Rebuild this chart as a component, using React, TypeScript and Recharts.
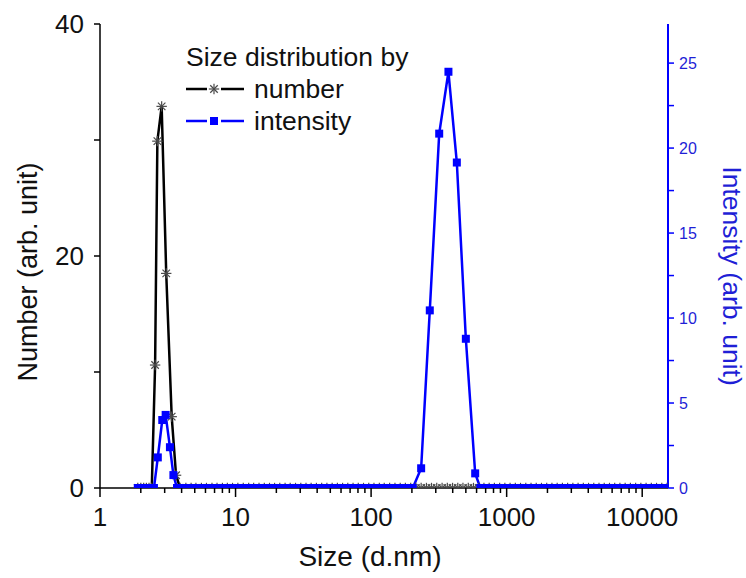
import { LineChart, Line, XAxis, YAxis } from "recharts";

const FONT = "'Liberation Sans', Arial, sans-serif";
const BLUE = "#0000ff";
const BLUE_TEXT = "#1f1fd6";

// size bins (d.nm) and values
const numberSize = [
  1.9, 2.0, 2.1, 2.2, 2.3, 2.41, 2.55, 2.65, 2.85, 3.08,
  3.38, 3.64, 3.9, 4.3, 4.7, 5.1, 5.6, 6.1, 6.7, 7.3,
  8.0, 8.7, 9.5, 10.4, 11.4, 12.5, 13.6, 14.9, 16.3, 17.8,
  19.4, 21.2, 23.2, 25.3, 27.7, 30.3, 33.1, 36.1, 39.5, 43.2,
  47.2, 51.6, 56.4, 61.6, 67.3, 73.6, 80.4, 87.9, 96.1, 105,
  115, 125, 137, 150, 164, 179, 196, 214, 234, 256,
  279, 305, 334, 365, 399, 436, 476, 521, 569, 622,
  680, 743, 812, 888, 970, 1060, 1159, 1266, 1384, 1513,
  1653, 1807, 1975, 2158, 2359, 2578, 2817, 3079, 3365, 3678,
  4020, 4393, 4801, 5247, 5735, 6268, 6850, 7487, 8183, 8943,
  9774, 10682, 11675, 12760, 13946, 15242,
];
const numberValue = [
  0, 0, 0, 0, 0, 0, 10.6, 29.9, 32.9, 18.5,
  6.15, 1.1, 0, 0, 0, 0, 0, 0, 0, 0,
  0, 0, 0, 0, 0, 0, 0, 0, 0, 0,
  0, 0, 0, 0, 0, 0, 0, 0, 0, 0,
  0, 0, 0, 0, 0, 0, 0, 0, 0, 0,
  0, 0, 0, 0, 0, 0, 0, 0, 0, 0,
  0, 0, 0, 0, 0, 0, 0, 0, 0, 0,
  0, 0, 0, 0, 0, 0, 0, 0, 0, 0,
  0, 0, 0, 0, 0, 0, 0, 0, 0, 0,
  0, 0, 0, 0, 0, 0, 0, 0, 0, 0,
  0, 0, 0, 0, 0, 0,
];

const intensitySize = [
  1.9, 2.0, 2.1, 2.2, 2.3, 2.4, 2.5, 2.67, 2.88, 3.05,
  3.28, 3.48, 3.7, 4.0, 4.4, 4.8, 5.2, 5.7, 6.2, 6.8,
  7.4, 8.1, 8.8, 9.6, 10.5, 11.5, 12.5, 13.7, 15, 16.4,
  17.9, 19.6, 21.4, 23.4, 25.6, 28, 30.6, 33.4, 36.5, 39.9,
  43.6, 47.7, 52.1, 57, 62.3, 68.1, 74.4, 81.3, 88.9, 97.2,
  106, 116, 127, 139, 152, 166, 182, 203, 234, 271,
  318, 372, 429, 500, 586, 640, 700, 765, 836, 914,
  1000, 1093, 1195, 1306, 1428, 1561, 1706, 1865, 2039, 2228,
  2436, 2662, 2910, 3181, 3477, 3801, 4154, 4541, 4963, 5425,
  5930, 6482, 7085, 7744, 8465, 9253, 10114, 11055, 12083, 13208,
  14437, 15400,
];
const intensityValue = [
  0, 0, 0, 0, 0, 0, 0, 1.8, 4.0, 4.3,
  2.4, 0.76, 0, 0, 0, 0, 0, 0, 0, 0,
  0, 0, 0, 0, 0, 0, 0, 0, 0, 0,
  0, 0, 0, 0, 0, 0, 0, 0, 0, 0,
  0, 0, 0, 0, 0, 0, 0, 0, 0, 0,
  0, 0, 0, 0, 0, 0, 0, 0, 1.16, 10.45,
  20.85, 24.49, 19.15, 8.78, 0.86, 0, 0, 0, 0, 0,
  0, 0, 0, 0, 0, 0, 0, 0, 0, 0,
  0, 0, 0, 0, 0, 0, 0, 0, 0, 0,
  0, 0, 0, 0, 0, 0, 0, 0, 0, 0,
  0, 0,
];

const xTicks = [
  1, 2, 3, 4, 5, 6, 7, 8, 9,
  10, 20, 30, 40, 50, 60, 70, 80, 90,
  100, 200, 300, 400, 500, 600, 700, 800, 900,
  1000, 2000, 3000, 4000, 5000, 6000, 7000, 8000, 9000,
  10000,
];
const xLabels = [1, 10, 100, 1000, 10000];
const leftTicks = [0, 10, 20, 30, 40];
const leftLabels = [0, 20, 40];
const rightTicks = [0, 2.5, 5, 7.5, 10, 12.5, 15, 17.5, 20, 22.5, 25];
const rightLabels = [0, 5, 10, 15, 20, 25];

const numberData = numberSize.map((s, i) => ({ size: s, v: numberValue[i] }));
const intensityData = intensitySize.map((s, i) => ({ size: s, v: intensityValue[i] }));

function Asterisk({ cx, cy, r = 5.2 }: any) {
  if (cx == null || cy == null) return null;
  const d = r * 0.72;
  return (
    <g stroke="#4a4a4a" strokeWidth={1.2}>
      <line x1={cx - r} y1={cy} x2={cx + r} y2={cy} />
      <line x1={cx} y1={cy - r} x2={cx} y2={cy + r} />
      <line x1={cx - d} y1={cy - d} x2={cx + d} y2={cy + d} />
      <line x1={cx - d} y1={cy + d} x2={cx + d} y2={cy - d} />
    </g>
  );
}

function Square({ cx, cy, s = 8 }: any) {
  if (cx == null || cy == null) return null;
  return <rect x={cx - s / 2} y={cy - s / 2} width={s} height={s} fill={BLUE} />;
}

function BottomTick({ x, y, payload }: any) {
  const major = xLabels.includes(payload.value);
  return (
    <g>
      <line x1={x} x2={x} y1={y} y2={y + (major ? 9 : 5)} stroke="#000" strokeWidth={1.5} />
      {major && (
        <text x={x} y={y + 38} textAnchor="middle" fontSize={26} fontFamily={FONT} fill="#111">
          {payload.value}
        </text>
      )}
    </g>
  );
}

function TopTick({ x, y, payload }: any) {
  const major = xLabels.includes(payload.value);
  return <line x1={x} x2={x} y1={y} y2={y + (major ? 9 : 5)} stroke="#000" strokeWidth={1.5} />;
}

export default function App() {
  return (
    <div style={{ position: "absolute", left: 0, top: 0, width: 746, height: 578, background: "#fff" }}>
      <LineChart width={746} height={578} margin={{ top: 24, right: 0, bottom: 0, left: 0 }}>
        <Line
          data={numberData}
          dataKey="v"
          yAxisId="left"
          xAxisId="bottom"
          type="linear"
          stroke="#000"
          strokeWidth={2.5}
          dot={(p: any) => <Asterisk key={"n" + p.index} cx={p.cx} cy={p.cy} />}
          activeDot={false}
          isAnimationActive={false}
        />
        <Line
          data={intensityData}
          dataKey="v"
          yAxisId="right"
          xAxisId="bottom"
          type="linear"
          stroke={BLUE}
          strokeWidth={2.5}
          dot={(p: any) => <Square key={"i" + p.index} cx={p.cx} cy={p.cy} />}
          activeDot={false}
          isAnimationActive={false}
        />
        <XAxis
          xAxisId="bottom"
          dataKey="size"
          type="number"
          scale="log"
          domain={[1, 15500]}
          allowDataOverflow
          ticks={xTicks}
          interval={0}
          height={90}
          tickSize={0}
          tickMargin={0}
          tickLine={false}
          tick={<BottomTick />}
          axisLine={{ stroke: "#000", strokeWidth: 1.5 }}
        />
        <XAxis
          xAxisId="top"
          orientation="top"
          dataKey="size"
          type="number"
          scale="log"
          domain={[1, 15500]}
          allowDataOverflow
          ticks={xTicks}
          interval={0}
          height={0}
          tickSize={0}
          tickMargin={0}
          tickLine={false}
          tick={<TopTick />}
          axisLine={{ stroke: "#000", strokeWidth: 1.5 }}
        />
        <YAxis
          yAxisId="left"
          width={100}
          domain={[0, 40]}
          allowDataOverflow
          ticks={leftTicks}
          interval={0}
          tickSize={6}
          tickMargin={10}
          tickFormatter={(v: number) => (leftLabels.includes(v) ? String(v) : "")}
          tick={{ fontSize: 26, fontFamily: FONT, fill: "#111" }}
          tickLine={{ stroke: "#000", strokeWidth: 1.5 }}
          axisLine={{ stroke: "#000", strokeWidth: 1.5 }}
        />
        <YAxis
          yAxisId="right"
          orientation="right"
          width={78}
          domain={[0, 27.3]}
          allowDataOverflow
          ticks={rightTicks}
          interval={0}
          tickSize={6}
          tickMargin={5}
          tickFormatter={(v: number) => (rightLabels.includes(v) ? String(v) : "")}
          tick={{ fontSize: 16, fontFamily: FONT, fill: BLUE_TEXT }}
          tickLine={{ stroke: BLUE, strokeWidth: 1.5 }}
          axisLine={{ stroke: BLUE, strokeWidth: 2 }}
        />
      </LineChart>
      <svg
        width={746}
        height={578}
        style={{ position: "absolute", left: 0, top: 0, pointerEvents: "none" }}
        fontFamily={FONT}
      >
        <text x={370} y={566} textAnchor="middle" fontSize={28} fill="#111">
          Size (d.nm)
        </text>
        <text transform="translate(37,272) rotate(-90)" textAnchor="middle" fontSize={27} fill="#111">
          Number (arb. unit)
        </text>
        <text transform="translate(723,276) rotate(90)" textAnchor="middle" fontSize={26.5} fill={BLUE_TEXT}>
          Intensity (arb. unit)
        </text>
        <text x={186} y={66} fontSize={26.5} fill="#111">
          Size distribution by
        </text>
        <line x1={186} x2={207} y1={89} y2={89} stroke="#000" strokeWidth={2.5} />
        <line x1={221} x2={244} y1={89} y2={89} stroke="#000" strokeWidth={2.5} />
        <Asterisk cx={214} cy={89} />
        <text x={254} y={98} fontSize={26.5} fill="#111">
          number
        </text>
        <line x1={186} x2={207} y1={121} y2={121} stroke={BLUE} strokeWidth={2.5} />
        <line x1={221} x2={244} y1={121} y2={121} stroke={BLUE} strokeWidth={2.5} />
        <Square cx={214} cy={121} />
        <text x={254} y={130} fontSize={26.5} fill="#111">
          intensity
        </text>
      </svg>
    </div>
  );
}
